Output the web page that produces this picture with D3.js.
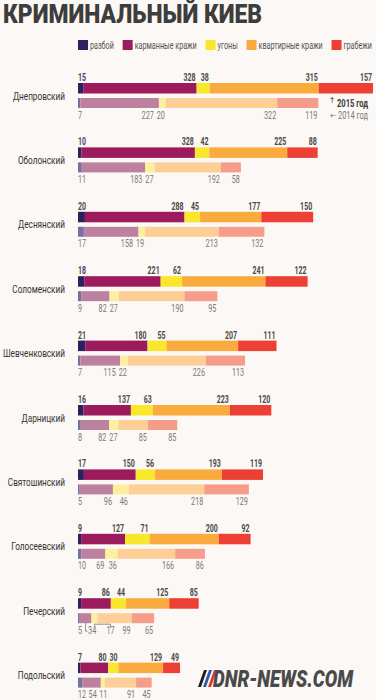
<!DOCTYPE html>
<html><head><meta charset="utf-8">
<script src="https://cdn.jsdelivr.net/npm/d3@7"></script>
<style>
html,body{margin:0;padding:0;background:#fbf8f5;}
svg{display:block;}
</style></head><body>
<script>
const districts = ["Днепровский","Оболонский","Деснянский","Соломенский","Шевченковский","Дарницкий","Святошинский","Голосеевский","Печерский","Подольский"];
const crimeTypes = ["разбой","карманные кражи","угоны","квартирные кражи","грабежи"];
const yearLabels = ["2015 год","2014 год"];
const razboi2015  = [15,10,20,18,21,16,17,9,9,7];
const karman2015  = [328,328,288,221,180,137,150,127,86,80];
const ugony2015   = [38,42,45,62,55,63,56,71,44,30];
const kvartir2015 = [315,225,177,241,207,223,193,200,125,129];
const grabezh2015 = [157,88,150,122,111,120,119,92,85,49];
const razboi2014  = [7,11,17,9,7,8,5,10,5,12];
const karman2014  = [227,183,158,82,115,82,96,69,34,54];
const ugony2014   = [20,27,19,27,22,27,46,36,17,11];
const kvartir2014 = [322,192,213,190,226,85,218,166,99,91];
const grabezh2014 = [119,58,132,95,113,85,129,86,65,45];

const colors2015 = ["#2b2162","#9c1b5c","#f8e72a","#fbab3d","#ee3f35"];
const colors2014 = ["#7771a1","#bd81a0","#fcef9e","#fdcf96","#f69d89"];

const FONT = "Roboto, 'Open Sans', sans-serif";
const W = 376, H = 700;

const data2015 = districts.map((d,i)=>[razboi2015[i],karman2015[i],ugony2015[i],kvartir2015[i],grabezh2015[i]]);
const data2014 = districts.map((d,i)=>[razboi2014[i],karman2014[i],ugony2014[i],kvartir2014[i],grabezh2014[i]]);
const totals = data2015.concat(data2014).map(r=>d3.sum(r));

const x = d3.scaleLinear().domain([0, d3.max(totals)]).range([78, 373]);
const y = d3.scalePoint().domain(districts).range([83, 662.6]);
const H15 = 10.5, H14 = 10, OFF14 = 15;

const svg = d3.select("body").append("svg").attr("width",W).attr("height",H);
svg.append("rect").attr("width",W).attr("height",H).attr("fill","#fbf8f5");

function cond(t, f){
  const w = t.node().getComputedTextLength()*f;
  t.attr("textLength", w).attr("lengthAdjust","spacingAndGlyphs");
  return w;
}

// Title
svg.append("text").attr("x",3).attr("y",23)
  .attr("font-family",FONT).attr("font-weight",900)
  .attr("font-size",25).attr("fill","#3d3d3d")
  .attr("textLength",259).attr("lengthAdjust","spacingAndGlyphs")
  .text("КРИМИНАЛЬНЫЙ КИЕВ");

// Legend
const lg = svg.append("g");
const ltexts = crimeTypes.map(c => lg.append("text").attr("y",48.5)
  .attr("font-family",FONT).attr("font-size",10).attr("fill","#555").text(c));
const lw = ltexts.map(t=>cond(t,0.72));
const itemW = lw.map(w=>12+w);
const gapL = (372-78-d3.sum(itemW))/(crimeTypes.length-1);
let lx = 78;
crimeTypes.forEach((c,i)=>{
  lg.append("rect").attr("x",lx).attr("y",40).attr("width",10).attr("height",10).attr("fill",colors2015[i]);
  ltexts[i].attr("x",lx+12);
  lx += itemW[i]+gapL;
});

function cumul(r){ const c=[0]; r.forEach(v=>c.push(c[c.length-1]+v)); return c; }

function drawLabels(g, vals, cum, baseY, bold, overrides){
  const texts = vals.map(v => g.append("text").attr("y",baseY)
    .attr("font-family",FONT).attr("font-size",10)
    .attr("font-weight", bold?700:400).attr("fill", bold?"#4a4a4a":"#7a7a7a").text(v));
  const widths = texts.map(t=>cond(t, bold?0.7:0.72));
  const lefts = [];
  let nextLeft = Infinity;
  for (let j=vals.length-1;j>=1;j--){
    const right = Math.min(x(cum[j+1]) - 1, nextLeft - 3);
    lefts[j] = right - widths[j];
    nextLeft = lefts[j];
  }
  lefts[0] = x(0);
  if (overrides) Object.keys(overrides).forEach(k=>{ lefts[k] = overrides[k]; });
  else {
    for (let j=1;j<vals.length;j++){
      const minLeft = lefts[j-1] + widths[j-1] + 2.5;
      if (lefts[j] < minLeft) lefts[j] = minLeft;
    }
  }
  texts.forEach((t,j)=>t.attr("x",lefts[j]));
  return {lefts, widths};
}

districts.forEach((d,i)=>{
  const top = y(d);
  const g = svg.append("g");
  const dl = g.append("text").attr("x",65).attr("y",top+16.5).attr("text-anchor","end")
    .attr("font-family",FONT).attr("font-size",10.5).attr("fill","#333").text(d);
  cond(dl, 0.78);

  const c15 = cumul(data2015[i]), c14 = cumul(data2014[i]);
  g.selectAll("rect.b15").data(data2015[i]).join("rect")
    .attr("x",(v,j)=>x(c15[j])).attr("y",top)
    .attr("width",(v,j)=>x(c15[j+1])-x(c15[j])).attr("height",H15)
    .attr("fill",(v,j)=>colors2015[j]);
  g.selectAll("rect.b14").data(data2014[i]).join("rect")
    .attr("x",(v,j)=>x(c14[j])).attr("y",top+OFF14)
    .attr("width",(v,j)=>x(c14[j+1])-x(c14[j])).attr("height",H14)
    .attr("fill",(v,j)=>colors2014[j]);

  drawLabels(g, data2015[i], c15, top-2, true);
  const bottom14 = top+OFF14+H14;
  if (d === "Печерский"){
    const m1 = (x(c14[1])+x(c14[2]))/2, m2 = (x(c14[2])+x(c14[3]))/2;
    const res = drawLabels(g, data2014[i], c14, bottom14+10.5, false, {1: m1+2.5, 2: m2+12});
    const lab2c = res.lefts[2] + res.widths[2]/2;
    g.append("path").attr("d",`M${m1},${bottom14}V${bottom14+8}H${m1+2}`)
      .attr("fill","none").attr("stroke","#777").attr("stroke-width",0.8);
    g.append("path").attr("d",`M${m2},${bottom14+3}V${bottom14+1}H${lab2c}V${bottom14+5}`)
      .attr("fill","none").attr("stroke","#777").attr("stroke-width",0.8);
  } else {
    drawLabels(g, data2014[i], c14, bottom14+10.5, false);
  }

  if (i === 0){
    g.append("text").attr("x",332).attr("y",top+20).attr("text-anchor","middle")
      .attr("font-family","DejaVu Sans, sans-serif").attr("font-size",8).attr("fill","#444").text("↑");
    g.append("text").attr("x",337).attr("y",top+23.5)
      .attr("font-family",FONT).attr("font-size",10).attr("font-weight",700).attr("fill","#3a3a3a")
      .attr("textLength",31).attr("lengthAdjust","spacingAndGlyphs").text(yearLabels[0]);
    g.append("text").attr("x",333.5).attr("y",bottom14+9.5).attr("text-anchor","middle")
      .attr("font-family","DejaVu Sans, sans-serif").attr("font-size",8).attr("fill","#7a7a7a").text("←");
    g.append("text").attr("x",338).attr("y",bottom14+10.5)
      .attr("font-family",FONT).attr("font-size",10).attr("fill","#7a7a7a")
      .attr("textLength",30).attr("lengthAdjust","spacingAndGlyphs").text(yearLabels[1]);
  }
});

// Watermark
const wm = svg.append("g");
const slashCols = ["#1e1e1e","#2f5aa8","#d23a32"];
slashCols.forEach((c,k)=>{
  const sx = 198 + k*5;
  wm.append("path").attr("d",`M${sx},687 L${sx+6},670 L${sx+9},670 L${sx+3},687Z`).attr("fill",c);
});
wm.append("text").attr("x",213).attr("y",687)
  .attr("font-family",FONT).attr("font-weight",900).attr("font-style","italic")
  .attr("font-size",23).attr("fill","#4a4a4a")
  .attr("textLength",140).attr("lengthAdjust","spacingAndGlyphs").text("DNR-NEWS.COM");
</script>
</body></html>
